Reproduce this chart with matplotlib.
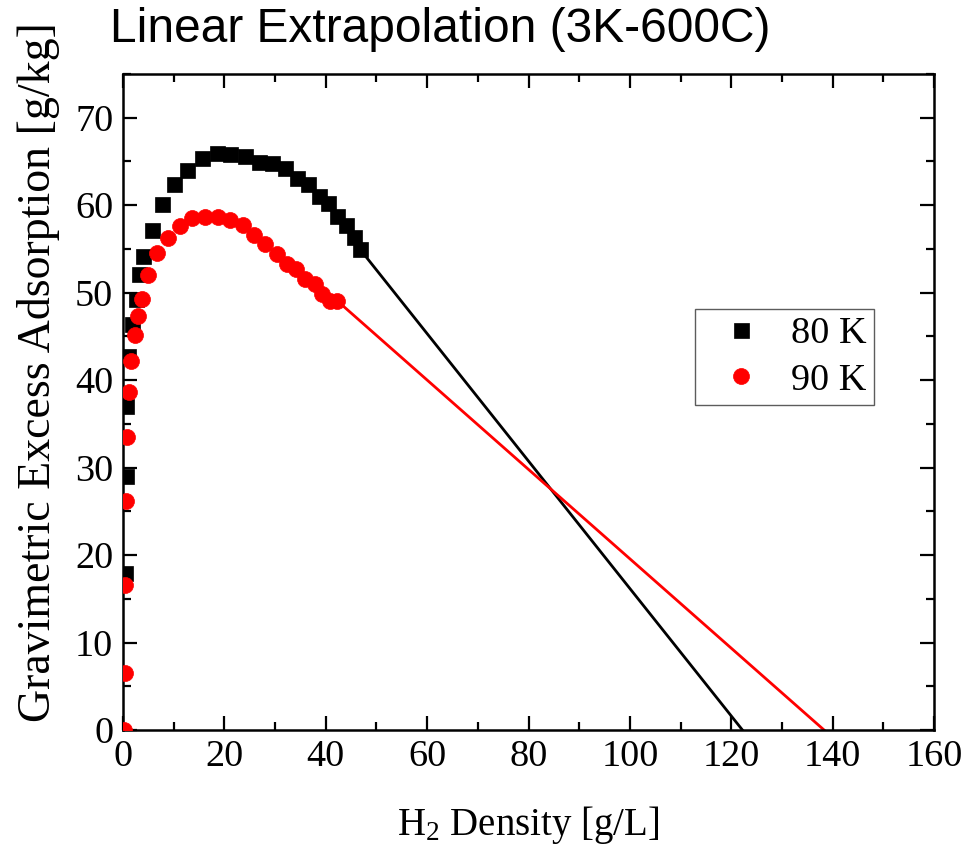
import matplotlib
matplotlib.use("Agg")
import matplotlib.pyplot as plt
from matplotlib.ticker import MultipleLocator

# ---- data ----
x_80 = [0.4, 0.5, 0.65, 0.9, 1.7, 2.5, 3.1, 4.0, 5.7, 7.6, 10.0, 12.7, 15.5, 18.5,
        21.2, 24.0, 26.9, 29.4, 31.9, 34.3, 36.5, 38.6, 40.5, 42.2, 43.9, 45.5, 46.7]
y_80 = [18.0, 29.0, 37.0, 42.8, 46.4, 49.3, 52.1, 54.2, 57.2, 60.1, 62.4, 64.0, 65.4, 66.0,
        65.9, 65.6, 64.9, 64.8, 64.3, 63.1, 62.4, 61.1, 60.3, 58.8, 57.7, 56.4, 55.0]

x_90 = [0.2, 0.3, 0.4, 0.55, 0.8, 1.2, 1.6, 2.3, 3.0, 3.7, 5.0, 6.8, 8.9, 11.2, 13.7,
        16.2, 18.7, 21.1, 23.6, 25.9, 28.1, 30.3, 32.3, 34.2, 36.0, 37.8, 39.3, 40.8, 42.2]
y_90 = [0.0, 6.5, 16.6, 26.2, 33.5, 38.6, 42.2, 45.2, 47.3, 49.3, 52.0, 54.5, 56.2, 57.6, 58.5,
        58.6, 58.7, 58.3, 57.7, 56.6, 55.6, 54.4, 53.3, 52.7, 51.6, 51.0, 49.9, 49.1, 49.1]

# linear extrapolation lines (from last measured point to zero crossing)
fit_80_x = [46.7, 122.2]
fit_80_y = [55.0, 0.0]
fit_90_x = [42.2, 138.3]
fit_90_y = [49.1, 0.0]

labels = ["80 K", "90 K"]
title = "Linear Extrapolation (3K-600C)"

# ---- style ----
plt.rcParams["font.family"] = ["Liberation Serif", "DejaVu Serif"]
plt.rcParams["mathtext.fontset"] = "custom"
plt.rcParams["mathtext.rm"] = "Liberation Serif"
plt.rcParams["mathtext.it"] = "Liberation Serif:italic"

fig = plt.figure(figsize=(9.8, 8.51), dpi=100)
ax = fig.add_axes([0.1255, 0.1422, 0.8276, 0.7709])

ax.plot(fit_80_x, fit_80_y, color="black", lw=2.0, zorder=2)
ax.plot(fit_90_x, fit_90_y, color="red", lw=2.0, zorder=2)
ax.plot(x_80, y_80, linestyle="none", marker="s", ms=10.8, color="black",
        mec="black", mew=0.5, label=labels[0], zorder=3)
ax.plot(x_90, y_90, linestyle="none", marker="o", ms=11.5, color="red",
        mec="red", mew=0.5, label=labels[1], zorder=4)

ax.set_xlim(0, 160)
ax.set_ylim(0, 75)
ax.xaxis.set_major_locator(MultipleLocator(20))
ax.xaxis.set_minor_locator(MultipleLocator(10))
ax.yaxis.set_minor_locator(MultipleLocator(5))
ax.set_yticks([0, 10, 20, 30, 40, 50, 60, 70])

ax.tick_params(which="both", direction="in", top=True, right=True, width=1.6)
ax.tick_params(which="major", length=10, labelsize=27.5, pad=7)
ax.tick_params(which="minor", length=5.5)
for s in ax.spines.values():
    s.set_linewidth(1.8)

ax.set_xlabel(r"H$_2$ Density [g/L]", fontsize=28)
ax.xaxis.set_label_coords(0.5, -0.113)
ax.xaxis.label.set_va("top")
ax.set_ylabel("Gravimetric Excess Adsorption [g/kg]", fontsize=33)
ax.yaxis.set_label_coords(-0.078, 0.545)

fig.text(110 / 980, 1 - 30 / 851, title, fontsize=34.5,
         family=["Liberation Sans", "DejaVu Sans"], ha="left", va="center")

leg = ax.legend(loc="upper right", bbox_to_anchor=(874 / 980, 1 - 309 / 851),
                bbox_transform=fig.transFigure, borderaxespad=0, fancybox=False,
                fontsize=27.5, handlelength=2.0, handletextpad=0.3, borderpad=0.2,
                labelspacing=0.3, frameon=True)
leg.get_frame().set_edgecolor("#333333")
leg.get_frame().set_linewidth(1.0)

fig.savefig("out.png", dpi=100)
